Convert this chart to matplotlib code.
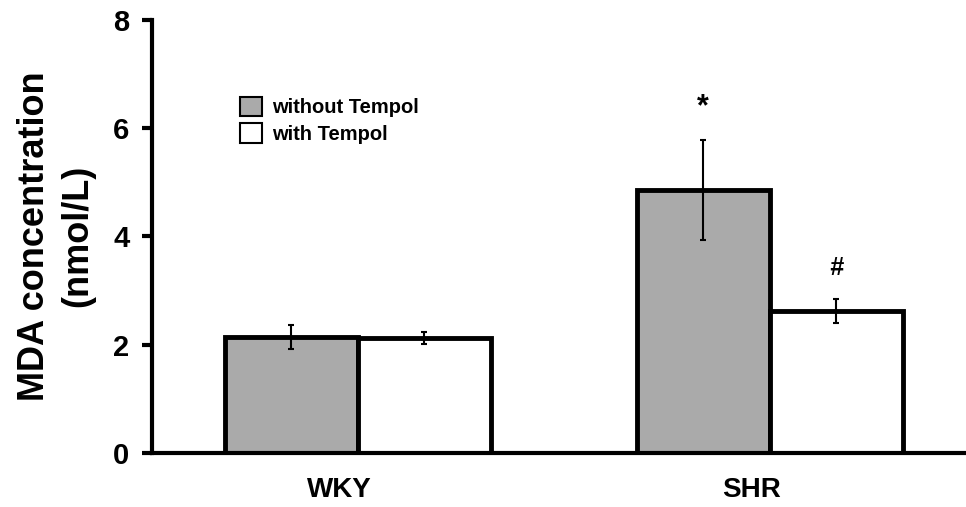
import numpy as np
import matplotlib.pyplot as plt

groups = ['WKY', 'SHR']
without_tempol = [2.14, 4.85]
without_err = [0.22, 0.92]
with_tempol = [2.12, 2.62]
with_err = [0.11, 0.22]
marks = ['*', '#']

plt.rcParams['font.family'] = ['Liberation Sans', 'DejaVu Sans']

fig = plt.figure(figsize=(9.66, 5.07), dpi=100)
ax = fig.add_axes([0.157, 0.1065, 0.843, 0.855])

x = np.arange(len(groups))
w = 0.323
ax.bar(x - w/2, without_tempol, w, color='#aaaaaa', edgecolor='black',
       linewidth=3.5, label='without Tempol', zorder=2)
ax.bar(x + w/2, with_tempol, w, color='white', edgecolor='black',
       linewidth=3.5, label='with Tempol', zorder=2)
ax.errorbar(x - w/2, without_tempol, yerr=without_err, fmt='none', ecolor='black',
            elinewidth=1.5, capsize=2.5, capthick=1.5, zorder=3)
ax.errorbar(x + w/2, with_tempol, yerr=with_err, fmt='none', ecolor='black',
            elinewidth=1.5, capsize=2.5, capthick=1.5, zorder=3)

# significance marks above SHR bars
ax.text(x[1] - w/2, without_tempol[1] + without_err[1] + 0.62, marks[0],
        ha='center', va='center', fontsize=22, fontweight='bold')
ax.text(x[1] + w/2, with_tempol[1] + with_err[1] + 0.57, marks[1],
        ha='center', va='center', fontsize=18, style='italic', fontweight='bold')

ax.set_xlim(-0.5, 1.476)
ax.set_ylim(0, 8)
ax.set_yticks([0, 2, 4, 6, 8])
# group labels sit a little left of the group centre, as in the original
ax.set_xticks(x - 0.045)
ax.set_xticklabels(groups, fontsize=20, fontweight='bold')
ax.tick_params(axis='x', length=0, pad=17)
ax.tick_params(axis='y', direction='out', length=7, width=3, labelsize=21, pad=9)
for lab in ax.get_yticklabels():
    lab.set_fontweight('bold')

for s in ['top', 'right']:
    ax.spines[s].set_visible(False)
for s in ['left', 'bottom']:
    ax.spines[s].set_linewidth(3)

ax.set_ylabel('MDA concentration\n(nmol/L)', fontsize=26, fontweight='bold',
              labelpad=13, linespacing=1.3)

leg = ax.legend(loc='upper left', bbox_to_anchor=(0.108, 0.822), frameon=False,
                prop={'size': 14.5, 'weight': 'bold'}, handlelength=1.1,
                handleheight=1.1, handletextpad=0.5,
                labelspacing=0.3, borderpad=0, borderaxespad=0)
for h in leg.legend_handles:
    h.set_linewidth(1.5)

fig.savefig('out.png', dpi=100)
